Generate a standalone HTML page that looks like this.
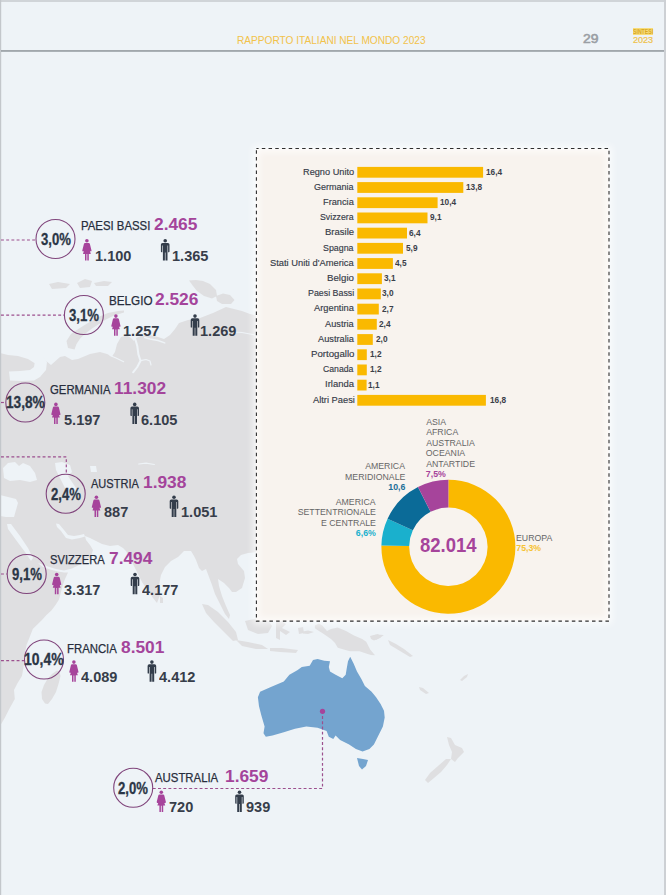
<!DOCTYPE html>
<html lang="it"><head><meta charset="utf-8"><title>Rapporto Italiani nel Mondo 2023 - 29</title>
<style>
html,body{margin:0;padding:0;}
body{width:666px;height:895px;position:relative;overflow:hidden;background:#eef3f7;font-family:"Liberation Sans",Arial,sans-serif;}
.abs{position:absolute;white-space:nowrap;}
svg{position:absolute;left:0;top:0;}
</style></head><body>

<svg width="666" height="895" viewBox="0 0 666 895">
<polygon fill="#dfdfe1" points="0,353 8,355 18,356 28,359 36,364 42,362 45,360 51,365 60,357 65,356 72,360 78,359 90,354 100,352 107,354 112,356.5 115,352 117,344 121,337 127,335.5 131,338 134,341 136,338 141,336 150,335 158,337 164,339 170,335 175,329 179,323 188,320 200,318 213,313 226,307 234,309 242,311 250,314 258,316 258,552 248,553 241,555 237,559 238,564 244,571 245,578 242,588 236,592 232,592 229,588 224,583 218,579 219,586 222,596 226,606 230,615 229,619 225,614 220,604 215,594 212,585 209,577 206,569 202,571 199,568 196,560 194,556 191,551 184,551 178,557 171,561 165,567 161,575 159,585 160,595 157,603 153,598 148,591 142,582 136,570 130,558 126,551 123,548 118,545 110,546 102,544 96,541 90,538 85,536 86,540 90,545 93,550 91,556 85,561 79,565 72,568.5 64,570.5 56,569 48,566.5 38,563 42,566.5 50,569.5 58,571.5 64,572.5 68,572.5 65,579 62.5,586 61,592 59,599.5 55.5,605 51.6,610.3 46,615.5 42.2,619.7 32.8,629 29.7,636.9 26.6,644.7 25,652.5 23.4,668 21.9,676 17.2,683.75 14,690 14.8,699 9.4,708.75 4.7,718 0,726"/>
<polygon fill="#eef3f7" points="9,371.5 20,371 30,370 34,367 35,361 38,358 44,357.5 47,362 46,370 40,377 34,380.5 22,381 10,380.5"/>
<polygon fill="#eef3f7" points="3,468 8,463 15,462 19,466 23,463 30,466 35,473 37,480 30,482 20,480 10,481 4,478"/>
<polygon fill="#eef3f7" points="55,463 62,462 70,465 72,472 68,476 72,482 76,488 75,495 68,494 64,486 60,478 56,470"/>
<polygon fill="#eef3f7" points="0,495 8,497 16,499 18,503 16,510 14,517 6,517 0,516"/>
<polygon fill="#eef3f7" points="7,524 11,524 20,536 28,548 33,558 31,561 25,552 16,540 8,529"/>
<polygon fill="#eef3f7" points="56,523.5 59,524 64,530 68,535 74,536 80,535 84,534 85,536.5 80,538 72,539.5 66,538 61,531 57,527"/>
<polygon fill="#eef3f7" points="90,466 96,466 97,472 91,472"/>
<polyline fill="none" stroke="#eef3f7" stroke-width="2.0" stroke-linecap="round" stroke-linejoin="round" points="135.2,338.7 137.3,346 138.4,354.4 140.5,360.7 137.3,367 133.1,372.3"/>
<polyline fill="none" stroke="#eef3f7" stroke-width="1.2" stroke-linecap="round" stroke-linejoin="round" points="140.5,360.7 146,359.5 150,361 151,365"/>
<polyline fill="none" stroke="#eef3f7" stroke-width="1.5" stroke-linecap="round" stroke-linejoin="round" points="144.7,337.6 150,339 158,340.5 164.7,342.9"/>
<polyline fill="none" stroke="#eef3f7" stroke-width="1.1" stroke-linecap="round" stroke-linejoin="round" points="110,355.5 116,358 123.7,361.8"/>
<polyline fill="none" stroke="#eef3f7" stroke-width="1.2" stroke-linecap="round" stroke-linejoin="round" points="138.7,464 146,463.2 154.3,464.5"/>
<polyline fill="none" stroke="#eef3f7" stroke-width="1.1" stroke-linecap="round" stroke-linejoin="round" points="226,333.5 234,332 242,332.5 250,334 258,335.5"/>
<polygon fill="#dfdfe1" points="124,310.5 118,311 108,313 97,317.5 88,323 79,328.5 71,334 66.5,341 68,348 74.5,349.6 76.5,344 80.5,338 86,333 92,328.5 99,324 106,319.5 114,315.5 124,312.5"/>
<polygon fill="#dfdfe1" points="49,284 58,282 70,284 66,288 52,289"/>
<polygon fill="#dfdfe1" points="77,283 85,279 92,281 90,287 80,288"/>
<polygon fill="#dfdfe1" points="94,283 104,281 112,282 108,286 96,286"/>
<polygon fill="#dfdfe1" points="189,280.5 196,280 203,281 210,284 216,290 217,296 212,298.5 204,296 197,291 193,286"/>
<polygon fill="#dfdfe1" points="216,296 223,293.5 230,295 234.5,300 231,304 222,304 217,301"/>
<polygon fill="#dfdfe1" points="160,596 163,598 163,603 160,603"/>
<polygon fill="#dfdfe1" points="202,604 208,605 218,612 228,622 236,632 238,640 233,641 224,632 214,622 206,613"/>
<polygon fill="#dfdfe1" points="236,640 248,642 262,645 268,649 256,649 242,646"/>
<polygon fill="#dfdfe1" points="270,648 282,648 298,650 296,653 280,652 270,651"/>
<polygon fill="#dfdfe1" points="245,621 258,618 268,620 272,626 268,633 258,634 248,630"/>
<polygon fill="#dfdfe1" points="276,622 282,621 286,624 282,628 290,632 286,635 280,631 280,640 276,638 276,630"/>
<polygon fill="#dfdfe1" points="298,628 303,627 304,633 299,634"/>
<polygon fill="#dfdfe1" points="314.9,625.5 318.9,623.5 322.3,625.5 327,631 331,628.9 337.8,627.5 346,631 354,635.6 362.2,639 366.2,641.7 370.3,649.8 375,655.2 371,655 367.6,653.9 359.5,651.2 350,651.2 344.6,649.8 337.8,647.8 335,643 331,639 327,636.3 323,633.6 319,631 314.9,628.2"/>
<polygon fill="#dfdfe1" points="302.7,631.5 308,630.5 314,632 308,634 303,633.6"/>
<polygon fill="#dfdfe1" points="370,636 376,634.5 383.8,635 380,638 374,640.4 371,639"/>
<polygon fill="#dfdfe1" points="372,636 378,634 381,637 376,640"/>
<polygon fill="#dfdfe1" points="388,640 396,644 404,649 413,656 410,657 400,651 390,645"/>
<polygon fill="#dfdfe1" points="57,670.5 59.5,671.5 60.5,676 58.5,684 56,692 52,699 48,704 45,703.5 42,699 41.5,692 44,685 47.5,679 52,674"/>
<polygon fill="#dfdfe1" points="419,687 423,688 429,693 426,694 420,690"/>
<polygon fill="#dfdfe1" points="460,680 464,676 468,674 467,677 462,681"/>
<polygon fill="#dfdfe1" points="447,737 451,738 455,745 462,748 464,752 458,758 455,762 451,759 452,752 449,745"/>
<polygon fill="#dfdfe1" points="451,759 447,765 441,772 434,778 428,783 425,780 430,773 438,766 446,759"/>
<polygon fill="#74a4cf" points="260.1,691.7 270.3,687.2 283.8,681.5 289.4,674.8 297.3,670.3 301.8,666.9 309.7,665.8 313,660.1 317.6,659 324.3,660.8 330,661.3 328.8,666.9 330,671.4 335.6,674.8 342.3,678.2 345.7,674.8 346.8,668 348,661.3 350.2,656.8 353.6,663.5 357,671.4 361.5,679.3 364.9,686 371.6,691.7 376.1,697.3 380.6,704 384,710.8 384.7,717.6 382.9,726.6 378.4,735.6 373.9,744.6 369.4,749.1 362.6,751.4 355.9,749.1 349.1,744.6 340.1,740.1 335.6,735.6 333.3,739 328.8,736.7 326.6,731.1 317.6,727.7 306.3,726.6 295,728.8 283.8,732.2 272.5,735.6 265.8,736.7 263.5,733.3 264.6,726.6 261.3,715.3 259,706.3 257.9,697.3"/>
<polygon fill="#74a4cf" points="357,758 363,759 368,760 366,766 362,769.4 359,766"/>
<rect x="0" y="0" width="666" height="2" fill="#d0d4d8"/>
<rect x="0" y="0" width="1.2" height="895" fill="#c3c7cb"/>
<rect x="664" y="0" width="2" height="895" fill="#cdd0d4"/>
<rect x="1" y="50.2" width="663" height="1.5" fill="#8e949a"/>
</svg>
<div style="position:absolute;left:256.4px;top:148.5px;width:352.6px;height:472.6px;background:#f8f3ee;box-shadow:0 0 7px 3px rgba(255,255,255,0.75), inset 0 0 7px 3px rgba(255,255,255,0.7);"></div>
<svg width="666" height="895" viewBox="0 0 666 895">
<rect x="256.4" y="148.5" width="352.6" height="472.6" fill="none" stroke="#2e2e2e" stroke-width="1.1" stroke-dasharray="3.5 3.22" stroke-dashoffset="1.3"/>
<rect x="357.3" y="166.90" width="125.80" height="10.8" fill="#fab900"/>
<rect x="357.3" y="182.10" width="106.00" height="10.8" fill="#fab900"/>
<rect x="357.3" y="197.30" width="80.30" height="10.8" fill="#fab900"/>
<rect x="357.3" y="212.50" width="70.20" height="10.8" fill="#fab900"/>
<rect x="357.3" y="227.70" width="49.70" height="10.8" fill="#fab900"/>
<rect x="357.3" y="242.90" width="45.70" height="10.8" fill="#fab900"/>
<rect x="357.3" y="258.10" width="35.60" height="10.8" fill="#fab900"/>
<rect x="357.3" y="273.30" width="24.60" height="10.8" fill="#fab900"/>
<rect x="357.3" y="288.50" width="23.50" height="10.8" fill="#fab900"/>
<rect x="357.3" y="303.70" width="21.50" height="10.8" fill="#fab900"/>
<rect x="357.3" y="318.90" width="19.50" height="10.8" fill="#fab900"/>
<rect x="357.3" y="334.10" width="15.50" height="10.8" fill="#fab900"/>
<rect x="357.3" y="349.30" width="9.50" height="10.8" fill="#fab900"/>
<rect x="357.3" y="364.50" width="9.50" height="10.8" fill="#fab900"/>
<rect x="357.3" y="379.70" width="9.30" height="10.8" fill="#fab900"/>
<rect x="357.3" y="394.90" width="128.60" height="10.8" fill="#fab900"/>
<path fill="#fab900" d="M448.40,479.80 A67,67 0 1 1 381.41,545.54 L409.21,546.06 A39.2,39.2 0 1 0 448.40,507.60 Z"/>
<path fill="#1ab0cd" d="M381.41,545.54 A67,67 0 0 1 387.60,518.65 L412.83,530.33 A39.2,39.2 0 0 0 409.21,546.06 Z"/>
<path fill="#0b6b98" d="M387.60,518.65 A67,67 0 0 1 417.98,487.10 L430.60,511.87 A39.2,39.2 0 0 0 412.83,530.33 Z"/>
<path fill="#a6449b" d="M417.98,487.10 A67,67 0 0 1 448.40,479.80 L448.40,507.60 A39.2,39.2 0 0 0 430.60,511.87 Z"/>
<path d="M1,240 H36" stroke="#9c4f8e" stroke-width="1.2" stroke-dasharray="2.9 2.3" fill="none"/>
<path d="M1,315.2 H64" stroke="#9c4f8e" stroke-width="1.2" stroke-dasharray="2.9 2.3" fill="none"/>
<path d="M1,402.5 H6" stroke="#9c4f8e" stroke-width="1.2" stroke-dasharray="2.9 2.3" fill="none"/>
<path d="M1,456.9 H66.3 V474" stroke="#9c4f8e" stroke-width="1.2" stroke-dasharray="2.9 2.3" fill="none"/>
<path d="M1,574 H7" stroke="#9c4f8e" stroke-width="1.2" stroke-dasharray="2.9 2.3" fill="none"/>
<path d="M1,660.6 H24.3" stroke="#9c4f8e" stroke-width="1.2" stroke-dasharray="2.9 2.3" fill="none"/>
<path d="M152.8,788.5 H322.5 V712" stroke="#9c4f8e" stroke-width="1.2" stroke-dasharray="2.9 2.3" fill="none"/>
<circle cx="322.5" cy="711.3" r="2.6" fill="#a6449b"/>
<circle cx="55.5" cy="239" r="19.5" fill="none" stroke="#80457c" stroke-width="1.1"/>
<g fill="#a6449b" transform="translate(82.4,238.89999999999998)"><circle cx="4.5" cy="1.8" r="1.8"/><path d="M2.6,4 L6.4,4 Q7.2,4 7.5,5 L9.1,11.6 Q9.2,12.4 8.5,12.4 L7.6,12.4 L8.4,15 L6.4,15 L6.4,21.5 L4.9,21.5 L4.9,15.2 L4.1,15.2 L4.1,21.5 L2.6,21.5 L2.6,15 L0.6,15 L1.4,12.4 L0.5,12.4 Q-0.2,12.4 -0.1,11.6 L1.5,5 Q1.8,4 2.6,4 Z"/></g>
<g fill="#333d4b" transform="translate(160.9,238.89999999999998)"><circle cx="4.3" cy="1.8" r="1.8"/><path d="M1.6,4 L7,4 Q8.6,4 8.6,5.6 L8.6,12.6 Q8.6,13.3 7.9,13.3 L7.2,13.3 L7.2,6.6 L6.6,6.6 L6.6,21.5 L4.6,21.5 L4.6,13.5 L4.0,13.5 L4.0,21.5 L2.0,21.5 L2.0,6.6 L1.4,6.6 L1.4,13.3 L0.7,13.3 Q0,13.3 0,12.6 L0,5.6 Q0,4 1.6,4 Z"/></g>
<circle cx="83.9" cy="315" r="19.5" fill="none" stroke="#80457c" stroke-width="1.1"/>
<g fill="#a6449b" transform="translate(111.4,314.3)"><circle cx="4.5" cy="1.8" r="1.8"/><path d="M2.6,4 L6.4,4 Q7.2,4 7.5,5 L9.1,11.6 Q9.2,12.4 8.5,12.4 L7.6,12.4 L8.4,15 L6.4,15 L6.4,21.5 L4.9,21.5 L4.9,15.2 L4.1,15.2 L4.1,21.5 L2.6,21.5 L2.6,15 L0.6,15 L1.4,12.4 L0.5,12.4 Q-0.2,12.4 -0.1,11.6 L1.5,5 Q1.8,4 2.6,4 Z"/></g>
<g fill="#333d4b" transform="translate(190.7,314.3)"><circle cx="4.3" cy="1.8" r="1.8"/><path d="M1.6,4 L7,4 Q8.6,4 8.6,5.6 L8.6,12.6 Q8.6,13.3 7.9,13.3 L7.2,13.3 L7.2,6.6 L6.6,6.6 L6.6,21.5 L4.6,21.5 L4.6,13.5 L4.0,13.5 L4.0,21.5 L2.0,21.5 L2.0,6.6 L1.4,6.6 L1.4,13.3 L0.7,13.3 Q0,13.3 0,12.6 L0,5.6 Q0,4 1.6,4 Z"/></g>
<circle cx="25.3" cy="402.5" r="19.5" fill="none" stroke="#80457c" stroke-width="1.1"/>
<g fill="#a6449b" transform="translate(51.4,402.6)"><circle cx="4.5" cy="1.8" r="1.8"/><path d="M2.6,4 L6.4,4 Q7.2,4 7.5,5 L9.1,11.6 Q9.2,12.4 8.5,12.4 L7.6,12.4 L8.4,15 L6.4,15 L6.4,21.5 L4.9,21.5 L4.9,15.2 L4.1,15.2 L4.1,21.5 L2.6,21.5 L2.6,15 L0.6,15 L1.4,12.4 L0.5,12.4 Q-0.2,12.4 -0.1,11.6 L1.5,5 Q1.8,4 2.6,4 Z"/></g>
<g fill="#333d4b" transform="translate(130.4,402.6)"><circle cx="4.3" cy="1.8" r="1.8"/><path d="M1.6,4 L7,4 Q8.6,4 8.6,5.6 L8.6,12.6 Q8.6,13.3 7.9,13.3 L7.2,13.3 L7.2,6.6 L6.6,6.6 L6.6,21.5 L4.6,21.5 L4.6,13.5 L4.0,13.5 L4.0,21.5 L2.0,21.5 L2.0,6.6 L1.4,6.6 L1.4,13.3 L0.7,13.3 Q0,13.3 0,12.6 L0,5.6 Q0,4 1.6,4 Z"/></g>
<circle cx="65.7" cy="493.8" r="19.5" fill="none" stroke="#80457c" stroke-width="1.1"/>
<g fill="#a6449b" transform="translate(91.9,495.4)"><circle cx="4.5" cy="1.8" r="1.8"/><path d="M2.6,4 L6.4,4 Q7.2,4 7.5,5 L9.1,11.6 Q9.2,12.4 8.5,12.4 L7.6,12.4 L8.4,15 L6.4,15 L6.4,21.5 L4.9,21.5 L4.9,15.2 L4.1,15.2 L4.1,21.5 L2.6,21.5 L2.6,15 L0.6,15 L1.4,12.4 L0.5,12.4 Q-0.2,12.4 -0.1,11.6 L1.5,5 Q1.8,4 2.6,4 Z"/></g>
<g fill="#333d4b" transform="translate(169.7,495.4)"><circle cx="4.3" cy="1.8" r="1.8"/><path d="M1.6,4 L7,4 Q8.6,4 8.6,5.6 L8.6,12.6 Q8.6,13.3 7.9,13.3 L7.2,13.3 L7.2,6.6 L6.6,6.6 L6.6,21.5 L4.6,21.5 L4.6,13.5 L4.0,13.5 L4.0,21.5 L2.0,21.5 L2.0,6.6 L1.4,6.6 L1.4,13.3 L0.7,13.3 Q0,13.3 0,12.6 L0,5.6 Q0,4 1.6,4 Z"/></g>
<circle cx="26.7" cy="574" r="19.5" fill="none" stroke="#80457c" stroke-width="1.1"/>
<g fill="#a6449b" transform="translate(52.2,572.7)"><circle cx="4.5" cy="1.8" r="1.8"/><path d="M2.6,4 L6.4,4 Q7.2,4 7.5,5 L9.1,11.6 Q9.2,12.4 8.5,12.4 L7.6,12.4 L8.4,15 L6.4,15 L6.4,21.5 L4.9,21.5 L4.9,15.2 L4.1,15.2 L4.1,21.5 L2.6,21.5 L2.6,15 L0.6,15 L1.4,12.4 L0.5,12.4 Q-0.2,12.4 -0.1,11.6 L1.5,5 Q1.8,4 2.6,4 Z"/></g>
<g fill="#333d4b" transform="translate(130.7,572.7)"><circle cx="4.3" cy="1.8" r="1.8"/><path d="M1.6,4 L7,4 Q8.6,4 8.6,5.6 L8.6,12.6 Q8.6,13.3 7.9,13.3 L7.2,13.3 L7.2,6.6 L6.6,6.6 L6.6,21.5 L4.6,21.5 L4.6,13.5 L4.0,13.5 L4.0,21.5 L2.0,21.5 L2.0,6.6 L1.4,6.6 L1.4,13.3 L0.7,13.3 Q0,13.3 0,12.6 L0,5.6 Q0,4 1.6,4 Z"/></g>
<circle cx="44" cy="659.5" r="19.5" fill="none" stroke="#80457c" stroke-width="1.1"/>
<g fill="#a6449b" transform="translate(69.4,660.3)"><circle cx="4.5" cy="1.8" r="1.8"/><path d="M2.6,4 L6.4,4 Q7.2,4 7.5,5 L9.1,11.6 Q9.2,12.4 8.5,12.4 L7.6,12.4 L8.4,15 L6.4,15 L6.4,21.5 L4.9,21.5 L4.9,15.2 L4.1,15.2 L4.1,21.5 L2.6,21.5 L2.6,15 L0.6,15 L1.4,12.4 L0.5,12.4 Q-0.2,12.4 -0.1,11.6 L1.5,5 Q1.8,4 2.6,4 Z"/></g>
<g fill="#333d4b" transform="translate(147.6,660.3)"><circle cx="4.3" cy="1.8" r="1.8"/><path d="M1.6,4 L7,4 Q8.6,4 8.6,5.6 L8.6,12.6 Q8.6,13.3 7.9,13.3 L7.2,13.3 L7.2,6.6 L6.6,6.6 L6.6,21.5 L4.6,21.5 L4.6,13.5 L4.0,13.5 L4.0,21.5 L2.0,21.5 L2.0,6.6 L1.4,6.6 L1.4,13.3 L0.7,13.3 Q0,13.3 0,12.6 L0,5.6 Q0,4 1.6,4 Z"/></g>
<circle cx="133.2" cy="787.8" r="19.5" fill="none" stroke="#80457c" stroke-width="1.1"/>
<g fill="#a6449b" transform="translate(156.8,790.5)"><circle cx="4.5" cy="1.8" r="1.8"/><path d="M2.6,4 L6.4,4 Q7.2,4 7.5,5 L9.1,11.6 Q9.2,12.4 8.5,12.4 L7.6,12.4 L8.4,15 L6.4,15 L6.4,21.5 L4.9,21.5 L4.9,15.2 L4.1,15.2 L4.1,21.5 L2.6,21.5 L2.6,15 L0.6,15 L1.4,12.4 L0.5,12.4 Q-0.2,12.4 -0.1,11.6 L1.5,5 Q1.8,4 2.6,4 Z"/></g>
<g fill="#333d4b" transform="translate(235.2,790.5)"><circle cx="4.3" cy="1.8" r="1.8"/><path d="M1.6,4 L7,4 Q8.6,4 8.6,5.6 L8.6,12.6 Q8.6,13.3 7.9,13.3 L7.2,13.3 L7.2,6.6 L6.6,6.6 L6.6,21.5 L4.6,21.5 L4.6,13.5 L4.0,13.5 L4.0,21.5 L2.0,21.5 L2.0,6.6 L1.4,6.6 L1.4,13.3 L0.7,13.3 Q0,13.3 0,12.6 L0,5.6 Q0,4 1.6,4 Z"/></g>
</svg>
<div class="abs" style="left:237.39px;top:35.00px;font-size:10.5px;line-height:10.5px;color:#f2c24a;transform:scaleX(0.9634);transform-origin:0 0;">RAPPORTO ITALIANI NEL MONDO 2023</div>
<div class="abs" style="left:583.31px;top:34.00px;font-size:11.9px;line-height:11.9px;color:#9a9ea4;transform:scaleX(1.1674);transform-origin:0 0;-webkit-text-stroke:0.55px #9a9ea4;">29</div>
<div class="abs" style="left:632.6px;top:28.2px;width:20.8px;height:6.8px;background:#f7dc7a;"></div>
<div class="abs" style="left:633.04px;top:28.00px;font-size:8.0px;line-height:8.0px;color:#d9a81e;font-weight:bold;transform:scaleX(0.6464);transform-origin:0 0;">SINTESI</div>
<div class="abs" style="left:632.75px;top:36.00px;font-size:8.6px;line-height:8.6px;color:#eec24a;transform:scaleX(1.0511);transform-origin:0 0;-webkit-text-stroke:0.2px #eec24a;">2023</div>
<div class="abs" style="left:303.06px;top:167.00px;font-size:9.45px;line-height:9.45px;color:#363b48;transform:scaleX(0.9746);transform-origin:0 0;-webkit-text-stroke:0.15px #363b48;">Regno Unito</div>
<div class="abs" style="left:486.00px;top:168.00px;font-size:8.8px;line-height:8.8px;color:#3b3f49;font-weight:bold;transform:scaleX(0.9400);transform-origin:0 0;">16,4</div>
<div class="abs" style="left:314.35px;top:182.00px;font-size:9.45px;line-height:9.45px;color:#363b48;transform:scaleX(0.9534);transform-origin:0 0;-webkit-text-stroke:0.15px #363b48;">Germania</div>
<div class="abs" style="left:465.70px;top:183.00px;font-size:8.8px;line-height:8.8px;color:#3b3f49;font-weight:bold;transform:scaleX(0.9400);transform-origin:0 0;">13,8</div>
<div class="abs" style="left:323.06px;top:197.00px;font-size:9.45px;line-height:9.45px;color:#363b48;transform:scaleX(0.9786);transform-origin:0 0;-webkit-text-stroke:0.15px #363b48;">Francia</div>
<div class="abs" style="left:439.80px;top:198.00px;font-size:8.8px;line-height:8.8px;color:#3b3f49;font-weight:bold;transform:scaleX(0.9400);transform-origin:0 0;">10,4</div>
<div class="abs" style="left:320.20px;top:212.00px;font-size:9.45px;line-height:9.45px;color:#363b48;transform:scaleX(0.9298);transform-origin:0 0;-webkit-text-stroke:0.15px #363b48;">Svizzera</div>
<div class="abs" style="left:429.61px;top:213.00px;font-size:8.8px;line-height:8.8px;color:#3b3f49;font-weight:bold;transform:scaleX(0.9400);transform-origin:0 0;">9,1</div>
<div class="abs" style="left:325.24px;top:227.00px;font-size:9.45px;line-height:9.45px;color:#363b48;transform:scaleX(1.0076);transform-origin:0 0;-webkit-text-stroke:0.15px #363b48;">Brasile</div>
<div class="abs" style="left:409.01px;top:229.00px;font-size:8.8px;line-height:8.8px;color:#3b3f49;font-weight:bold;transform:scaleX(0.9400);transform-origin:0 0;">6,4</div>
<div class="abs" style="left:323.40px;top:243.00px;font-size:9.45px;line-height:9.45px;color:#363b48;transform:scaleX(0.9368);transform-origin:0 0;-webkit-text-stroke:0.15px #363b48;">Spagna</div>
<div class="abs" style="left:405.65px;top:244.00px;font-size:8.8px;line-height:8.8px;color:#3b3f49;font-weight:bold;transform:scaleX(0.9400);transform-origin:0 0;">5,9</div>
<div class="abs" style="left:270.08px;top:258.00px;font-size:9.45px;line-height:9.45px;color:#363b48;transform:scaleX(0.9888);transform-origin:0 0;-webkit-text-stroke:0.15px #363b48;">Stati Uniti d&#39;America</div>
<div class="abs" style="left:394.68px;top:259.00px;font-size:8.8px;line-height:8.8px;color:#3b3f49;font-weight:bold;transform:scaleX(0.9400);transform-origin:0 0;">4,5</div>
<div class="abs" style="left:327.32px;top:273.00px;font-size:9.45px;line-height:9.45px;color:#363b48;transform:scaleX(1.0264);transform-origin:0 0;-webkit-text-stroke:0.15px #363b48;">Belgio</div>
<div class="abs" style="left:384.49px;top:274.00px;font-size:8.8px;line-height:8.8px;color:#3b3f49;font-weight:bold;transform:scaleX(0.9400);transform-origin:0 0;">3,1</div>
<div class="abs" style="left:308.19px;top:288.00px;font-size:9.45px;line-height:9.45px;color:#363b48;transform:scaleX(0.9374);transform-origin:0 0;-webkit-text-stroke:0.15px #363b48;">Paesi Bassi</div>
<div class="abs" style="left:382.49px;top:289.00px;font-size:8.8px;line-height:8.8px;color:#3b3f49;font-weight:bold;transform:scaleX(0.9400);transform-origin:0 0;">3,0</div>
<div class="abs" style="left:314.00px;top:303.00px;font-size:9.45px;line-height:9.45px;color:#363b48;transform:scaleX(0.9865);transform-origin:0 0;-webkit-text-stroke:0.15px #363b48;">Argentina</div>
<div class="abs" style="left:381.51px;top:305.00px;font-size:8.8px;line-height:8.8px;color:#3b3f49;font-weight:bold;transform:scaleX(0.9400);transform-origin:0 0;">2,7</div>
<div class="abs" style="left:325.20px;top:319.00px;font-size:9.45px;line-height:9.45px;color:#363b48;transform:scaleX(0.9765);transform-origin:0 0;-webkit-text-stroke:0.15px #363b48;">Austria</div>
<div class="abs" style="left:378.81px;top:320.00px;font-size:8.8px;line-height:8.8px;color:#3b3f49;font-weight:bold;transform:scaleX(0.9400);transform-origin:0 0;">2,4</div>
<div class="abs" style="left:317.90px;top:334.00px;font-size:9.45px;line-height:9.45px;color:#363b48;transform:scaleX(0.9793);transform-origin:0 0;-webkit-text-stroke:0.15px #363b48;">Australia</div>
<div class="abs" style="left:376.11px;top:335.00px;font-size:8.8px;line-height:8.8px;color:#3b3f49;font-weight:bold;transform:scaleX(0.9400);transform-origin:0 0;">2,0</div>
<div class="abs" style="left:310.83px;top:349.00px;font-size:9.45px;line-height:9.45px;color:#363b48;transform:scaleX(1.0220);transform-origin:0 0;-webkit-text-stroke:0.15px #363b48;">Portogallo</div>
<div class="abs" style="left:370.10px;top:350.00px;font-size:8.8px;line-height:8.8px;color:#3b3f49;font-weight:bold;transform:scaleX(0.9400);transform-origin:0 0;">1,2</div>
<div class="abs" style="left:323.47px;top:364.00px;font-size:9.45px;line-height:9.45px;color:#363b48;transform:scaleX(0.9202);transform-origin:0 0;-webkit-text-stroke:0.15px #363b48;">Canada</div>
<div class="abs" style="left:370.10px;top:365.00px;font-size:8.8px;line-height:8.8px;color:#3b3f49;font-weight:bold;transform:scaleX(0.9400);transform-origin:0 0;">1,2</div>
<div class="abs" style="left:324.95px;top:379.00px;font-size:9.45px;line-height:9.45px;color:#363b48;transform:scaleX(1.0029);transform-origin:0 0;-webkit-text-stroke:0.15px #363b48;">Irlanda</div>
<div class="abs" style="left:368.10px;top:381.00px;font-size:8.8px;line-height:8.8px;color:#3b3f49;font-weight:bold;transform:scaleX(0.9400);transform-origin:0 0;">1,1</div>
<div class="abs" style="left:312.60px;top:395.00px;font-size:9.45px;line-height:9.45px;color:#363b48;transform:scaleX(0.9854);transform-origin:0 0;-webkit-text-stroke:0.15px #363b48;">Altri Paesi</div>
<div class="abs" style="left:489.70px;top:396.00px;font-size:8.8px;line-height:8.8px;color:#3b3f49;font-weight:bold;transform:scaleX(0.9400);transform-origin:0 0;">16,8</div>
<div class="abs" style="left:426.20px;top:418.00px;font-size:8.75px;line-height:8.75px;color:#666666;transform:scaleX(1.0000);transform-origin:0 0;">ASIA</div>
<div class="abs" style="left:426.20px;top:428.00px;font-size:8.75px;line-height:8.75px;color:#666666;transform:scaleX(1.0000);transform-origin:0 0;">AFRICA</div>
<div class="abs" style="left:426.20px;top:439.00px;font-size:8.75px;line-height:8.75px;color:#666666;transform:scaleX(1.0000);transform-origin:0 0;">AUSTRALIA</div>
<div class="abs" style="left:425.81px;top:449.00px;font-size:8.75px;line-height:8.75px;color:#666666;transform:scaleX(1.0000);transform-origin:0 0;">OCEANIA</div>
<div class="abs" style="left:426.20px;top:460.00px;font-size:8.75px;line-height:8.75px;color:#666666;transform:scaleX(1.0000);transform-origin:0 0;">ANTARTIDE</div>
<div class="abs" style="left:425.85px;top:470.00px;font-size:8.75px;line-height:8.75px;color:#a6449b;font-weight:bold;transform:scaleX(1.0000);transform-origin:0 0;">7,5%</div>
<div class="abs" style="left:365.14px;top:462.00px;font-size:8.75px;line-height:8.75px;color:#666666;transform:scaleX(1.0000);transform-origin:0 0;">AMERICA</div>
<div class="abs" style="left:345.06px;top:473.00px;font-size:8.75px;line-height:8.75px;color:#666666;transform:scaleX(1.0000);transform-origin:0 0;">MERIDIONALE</div>
<div class="abs" style="left:388.29px;top:483.00px;font-size:8.75px;line-height:8.75px;color:#1b6e98;font-weight:bold;transform:scaleX(1.0000);transform-origin:0 0;">10,6</div>
<div class="abs" style="left:335.74px;top:498.00px;font-size:8.75px;line-height:8.75px;color:#666666;transform:scaleX(1.0000);transform-origin:0 0;">AMERICA</div>
<div class="abs" style="left:297.68px;top:508.00px;font-size:8.75px;line-height:8.75px;color:#666666;transform:scaleX(1.0000);transform-origin:0 0;">SETTENTRIONALE</div>
<div class="abs" style="left:321.00px;top:519.00px;font-size:8.75px;line-height:8.75px;color:#666666;transform:scaleX(1.0000);transform-origin:0 0;">E CENTRALE</div>
<div class="abs" style="left:355.87px;top:529.00px;font-size:8.75px;line-height:8.75px;color:#1ab0cd;font-weight:bold;transform:scaleX(1.0000);transform-origin:0 0;">6,6%</div>
<div class="abs" style="left:516.00px;top:534.00px;font-size:8.75px;line-height:8.75px;color:#666666;transform:scaleX(1.0000);transform-origin:0 0;">EUROPA</div>
<div class="abs" style="left:516.35px;top:544.00px;font-size:8.75px;line-height:8.75px;color:#f6c232;font-weight:bold;transform:scaleX(1.0000);transform-origin:0 0;">75,3%</div>
<div class="abs" style="left:420.44px;top:536.00px;font-size:19.5px;line-height:19.5px;color:#a6449b;font-weight:bold;transform:scaleX(0.9494);transform-origin:0 0;">82.014</div>
<div class="abs" style="left:40.52px;top:232.00px;font-size:15.6px;line-height:15.6px;color:#2b3646;font-weight:bold;transform:scaleX(0.8422);transform-origin:0 0;-webkit-text-stroke:0.3px #2b3646;">3,0%</div>
<div class="abs" style="left:80.89px;top:220.00px;font-size:12.8px;line-height:12.8px;color:#272d3c;transform:scaleX(0.8887);transform-origin:0 0;-webkit-text-stroke:0.25px #272d3c;">PAESI BASSI</div>
<div class="abs" style="left:154.39px;top:216.00px;font-size:17.0px;line-height:17.0px;color:#a4449b;font-weight:bold;transform:scaleX(1.0198);transform-origin:0 0;">2.465</div>
<div class="abs" style="left:94.63px;top:249.00px;font-size:14.4px;line-height:14.4px;color:#373d4a;font-weight:bold;transform:scaleX(1.0122);transform-origin:0 0;">1.100</div>
<div class="abs" style="left:171.73px;top:249.00px;font-size:14.4px;line-height:14.4px;color:#373d4a;font-weight:bold;transform:scaleX(1.0122);transform-origin:0 0;">1.365</div>
<div class="abs" style="left:68.87px;top:308.00px;font-size:15.6px;line-height:15.6px;color:#2b3646;font-weight:bold;transform:scaleX(0.8451);transform-origin:0 0;-webkit-text-stroke:0.3px #2b3646;">3,1%</div>
<div class="abs" style="left:108.97px;top:295.00px;font-size:12.8px;line-height:12.8px;color:#272d3c;transform:scaleX(0.9127);transform-origin:0 0;-webkit-text-stroke:0.25px #272d3c;">BELGIO</div>
<div class="abs" style="left:154.99px;top:291.00px;font-size:17.0px;line-height:17.0px;color:#a4449b;font-weight:bold;transform:scaleX(1.0198);transform-origin:0 0;">2.526</div>
<div class="abs" style="left:123.33px;top:324.00px;font-size:14.4px;line-height:14.4px;color:#373d4a;font-weight:bold;transform:scaleX(1.0122);transform-origin:0 0;">1.257</div>
<div class="abs" style="left:200.33px;top:324.00px;font-size:14.4px;line-height:14.4px;color:#373d4a;font-weight:bold;transform:scaleX(1.0122);transform-origin:0 0;">1.269</div>
<div class="abs" style="left:5.68px;top:395.00px;font-size:15.6px;line-height:15.6px;color:#2b3646;font-weight:bold;transform:scaleX(0.8765);transform-origin:0 0;-webkit-text-stroke:0.3px #2b3646;">13,8%</div>
<div class="abs" style="left:50.23px;top:384.00px;font-size:12.8px;line-height:12.8px;color:#272d3c;transform:scaleX(0.8863);transform-origin:0 0;-webkit-text-stroke:0.25px #272d3c;">GERMANIA</div>
<div class="abs" style="left:113.96px;top:380.00px;font-size:17.0px;line-height:17.0px;color:#a4449b;font-weight:bold;transform:scaleX(1.0198);transform-origin:0 0;">11.302</div>
<div class="abs" style="left:63.76px;top:413.00px;font-size:14.4px;line-height:14.4px;color:#373d4a;font-weight:bold;transform:scaleX(1.0122);transform-origin:0 0;">5.197</div>
<div class="abs" style="left:140.69px;top:413.00px;font-size:14.4px;line-height:14.4px;color:#373d4a;font-weight:bold;transform:scaleX(1.0122);transform-origin:0 0;">6.105</div>
<div class="abs" style="left:50.66px;top:487.00px;font-size:15.6px;line-height:15.6px;color:#2b3646;font-weight:bold;transform:scaleX(0.8422);transform-origin:0 0;-webkit-text-stroke:0.3px #2b3646;">2,4%</div>
<div class="abs" style="left:90.80px;top:478.00px;font-size:12.8px;line-height:12.8px;color:#272d3c;transform:scaleX(0.8624);transform-origin:0 0;-webkit-text-stroke:0.25px #272d3c;">AUSTRIA</div>
<div class="abs" style="left:142.96px;top:474.00px;font-size:17.0px;line-height:17.0px;color:#a4449b;font-weight:bold;transform:scaleX(1.0198);transform-origin:0 0;">1.938</div>
<div class="abs" style="left:104.46px;top:505.00px;font-size:14.4px;line-height:14.4px;color:#373d4a;font-weight:bold;transform:scaleX(1.0122);transform-origin:0 0;">887</div>
<div class="abs" style="left:181.03px;top:505.00px;font-size:14.4px;line-height:14.4px;color:#373d4a;font-weight:bold;transform:scaleX(1.0122);transform-origin:0 0;">1.051</div>
<div class="abs" style="left:11.66px;top:567.00px;font-size:15.6px;line-height:15.6px;color:#2b3646;font-weight:bold;transform:scaleX(0.8422);transform-origin:0 0;-webkit-text-stroke:0.3px #2b3646;">9,1%</div>
<div class="abs" style="left:50.30px;top:554.00px;font-size:12.8px;line-height:12.8px;color:#272d3c;transform:scaleX(0.8740);transform-origin:0 0;-webkit-text-stroke:0.25px #272d3c;">SVIZZERA</div>
<div class="abs" style="left:108.61px;top:550.00px;font-size:17.0px;line-height:17.0px;color:#a4449b;font-weight:bold;transform:scaleX(1.0198);transform-origin:0 0;">7.494</div>
<div class="abs" style="left:63.84px;top:583.00px;font-size:14.4px;line-height:14.4px;color:#373d4a;font-weight:bold;transform:scaleX(1.0122);transform-origin:0 0;">3.317</div>
<div class="abs" style="left:141.58px;top:583.00px;font-size:14.4px;line-height:14.4px;color:#373d4a;font-weight:bold;transform:scaleX(1.0122);transform-origin:0 0;">4.177</div>
<div class="abs" style="left:23.96px;top:652.00px;font-size:15.6px;line-height:15.6px;color:#2b3646;font-weight:bold;transform:scaleX(0.8951);transform-origin:0 0;-webkit-text-stroke:0.3px #2b3646;">10,4%</div>
<div class="abs" style="left:66.89px;top:643.00px;font-size:12.8px;line-height:12.8px;color:#272d3c;transform:scaleX(0.8874);transform-origin:0 0;-webkit-text-stroke:0.25px #272d3c;">FRANCIA</div>
<div class="abs" style="left:120.88px;top:639.00px;font-size:17.0px;line-height:17.0px;color:#a4449b;font-weight:bold;transform:scaleX(1.0198);transform-origin:0 0;">8.501</div>
<div class="abs" style="left:81.18px;top:670.00px;font-size:14.4px;line-height:14.4px;color:#373d4a;font-weight:bold;transform:scaleX(1.0122);transform-origin:0 0;">4.089</div>
<div class="abs" style="left:159.08px;top:670.00px;font-size:14.4px;line-height:14.4px;color:#373d4a;font-weight:bold;transform:scaleX(1.0122);transform-origin:0 0;">4.412</div>
<div class="abs" style="left:118.16px;top:781.00px;font-size:15.6px;line-height:15.6px;color:#2b3646;font-weight:bold;transform:scaleX(0.8422);transform-origin:0 0;-webkit-text-stroke:0.3px #2b3646;">2,0%</div>
<div class="abs" style="left:155.10px;top:772.00px;font-size:12.8px;line-height:12.8px;color:#272d3c;transform:scaleX(0.8888);transform-origin:0 0;-webkit-text-stroke:0.25px #272d3c;">AUSTRALIA</div>
<div class="abs" style="left:225.46px;top:768.00px;font-size:17.0px;line-height:17.0px;color:#a4449b;font-weight:bold;transform:scaleX(1.0198);transform-origin:0 0;">1.659</div>
<div class="abs" style="left:169.02px;top:800.00px;font-size:14.4px;line-height:14.4px;color:#373d4a;font-weight:bold;transform:scaleX(1.0122);transform-origin:0 0;">720</div>
<div class="abs" style="left:246.09px;top:800.00px;font-size:14.4px;line-height:14.4px;color:#373d4a;font-weight:bold;transform:scaleX(1.0122);transform-origin:0 0;">939</div>
</body></html>
